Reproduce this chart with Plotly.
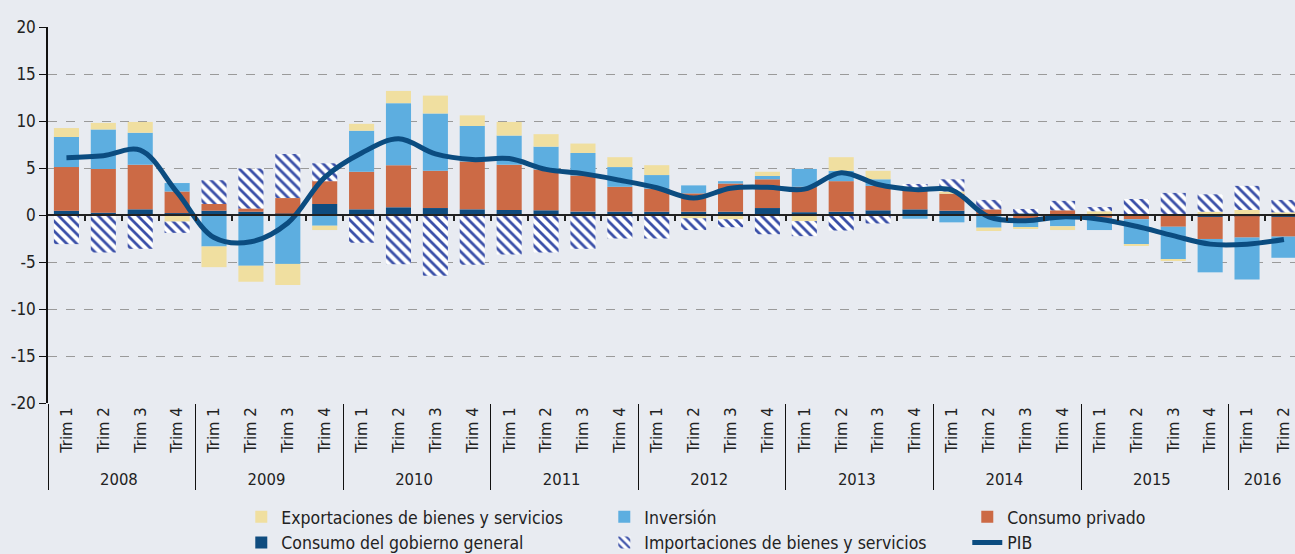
import plotly.graph_objects as go

years = ["2008"] * 4 + ["2009"] * 4 + ["2010"] * 4 + ["2011"] * 4 + ["2012"] * 4 + ["2013"] * 4 + ["2014"] * 4 + ["2015"] * 4 + ["2016"] * 2
quarters = ["Trim 1", "Trim 2", "Trim 3", "Trim 4"] * 8 + ["Trim 1", "Trim 2"]

gobierno = [0.46, 0.25, 0.6, 0.2, 0.46, 0.35, 0.15, 1.17, 0.6, 0.82, 0.74, 0.6,
            0.53, 0.5, 0.36, 0.36, 0.35, 0.35, 0.35, 0.74, 0.3, 0.35, 0.5, 0.6,
            0.46, 0.08, 0.15, 0.06, 0.05, 0.03, 0.05, -0.2, -0.12, -0.2]
privado = [4.64, 4.65, 4.75, 2.3, 0.71, 0.35, 1.65, 2.43, 4.0, 4.48, 3.96, 5.1,
           4.82, 4.35, 3.84, 2.64, 2.45, 1.95, 3.0, 3.06, 2.7, 3.25, 2.6, 2.05,
           1.81, 0.52, -0.45, 0.44, -0.3, -0.45, -1.25, -2.35, -2.28, -2.1]
inversion = [3.2, 4.2, 3.4, 0.9, -3.35, -5.4, -5.2, -1.14, 4.37, 6.6, 6.1, 3.77,
             3.1, 2.42, 2.4, 2.1, 1.45, 0.85, 0.25, 0.35, 1.9, 1.1, 0.7, -0.4,
             -0.78, -1.35, -0.85, -1.2, -1.3, -2.65, -3.45, -3.55, -4.45, -2.25]
exportaciones = [0.95, 0.7, 1.15, -0.7, -2.2, -1.7, -2.25, -0.46, 0.73, 1.3, 1.9, 1.13,
                 1.45, 1.33, 1.0, 1.05, 1.05, -0.35, -0.45, 0.45, -0.65, 1.45, 0.9, 0.0,
                 0.23, -0.35, -0.15, -0.4, 0.35, -0.1, -0.15, 0.35, 0.53, 0.28]
importaciones = [-3.1, -4.0, -3.6, -1.2, 2.53, 4.25, 4.7, 1.9, -2.95, -5.25, -6.45, -5.3,
                 -4.2, -4.0, -3.6, -2.5, -2.5, -1.25, -0.85, -2.05, -1.6, -1.65, -0.9, 0.65,
                 1.3, 1.0, 0.49, 1.0, 0.45, 1.67, 2.3, 1.85, 2.57, 1.32]
pib = [6.1, 6.3, 6.9, 2.4, -2.4, -2.85, -0.85, 4.0, 6.6, 8.1, 6.5, 5.9,
       6.0, 4.85, 4.4, 3.7, 2.9, 1.8, 2.85, 2.95, 2.75, 4.5, 3.25, 2.7,
       2.65, -0.2, -0.6, -0.2, -0.45, -1.2, -2.2, -3.1, -3.1, -2.6]

y_ticks = [-20, -15, -10, -5, 0, 5, 10, 15, 20]
y_ticktext = ["-20", "-15", "-10", "-5", "0", "5", "10", "15", "20"]

FONT = "DejaVu Sans Condensed, DejaVu Sans, sans-serif"
BG = "#E8EBF1"
TXT = "#222222"
x = [years, quarters]

fig = go.Figure()
fig.add_trace(go.Bar(x=x, y=gobierno, name="Consumo del gobierno general",
                     marker=dict(color="#0F4C7F", line=dict(width=0)), legendrank=4))
fig.add_trace(go.Bar(x=x, y=privado, name="Consumo privado",
                     marker=dict(color="#CC6A45", line=dict(width=0)), legendrank=3))
fig.add_trace(go.Bar(x=x, y=inversion, name="Inversión",
                     marker=dict(color="#5DAEE0", line=dict(width=0)), legendrank=2))
fig.add_trace(go.Bar(x=x, y=exportaciones, name="Exportaciones de bienes y servicios",
                     marker=dict(color="#F0DFA0", line=dict(width=0)), legendrank=1))
fig.add_trace(go.Bar(x=x, y=importaciones, name="Importaciones de bienes y servicios",
                     marker=dict(color="white", line=dict(width=0),
                                 pattern=dict(shape="\\", fgcolor="#3A4FA8", bgcolor="white",
                                              size=7, solidity=0.4, fgopacity=1)),
                     legendrank=5))
fig.add_trace(go.Scatter(x=x, y=pib, name="PIB", mode="lines",
                         line=dict(color="#0B4C80", width=5, shape="spline", smoothing=1.0),
                         legendrank=6))
# empty trace to hold the zero-line axis
fig.add_trace(go.Scatter(x=[], y=[], xaxis="x2", showlegend=False, hoverinfo="skip"))

fig.update_layout(
    width=1295, height=554,
    paper_bgcolor=BG, plot_bgcolor=BG,
    barmode="relative", bargap=0.32,
    margin=dict(l=48, r=0, t=27, b=151, pad=0, autoexpand=False),
    font=dict(family=FONT, size=17, color=TXT),
    showlegend=True,
    legend=dict(orientation="h", x=0.155, xanchor="left", y=-0.255, yanchor="top",
                entrywidth=318, entrywidthmode="pixels", traceorder="normal",
                font=dict(family=FONT, size=17.5, color=TXT),
                bgcolor="rgba(0,0,0,0)", itemwidth=30, tracegroupgap=0),
    xaxis=dict(type="multicategory", range=[-0.5, 33.3], tickangle=-90,
               showgrid=False, showline=False, ticks="", zeroline=False,
               showdividers=True, dividercolor="#111111", dividerwidth=1.2,
               tickfont=dict(family=FONT, size=16.5, color=TXT)),
    xaxis2=dict(overlaying="x", anchor="free", position=0.5, range=[-0.5, 33.3],
                showline=True, linecolor="#222222", linewidth=2,
                ticks="outside", tickvals=[i + 0.5 for i in range(33)], ticklen=5,
                tickwidth=1.5, tickcolor="#222222", showticklabels=False,
                showgrid=False, zeroline=False, side="bottom"),
    yaxis=dict(range=[-20, 20], tickvals=y_ticks, ticktext=y_ticktext,
               showgrid=True, gridcolor="#9A9A9A", griddash="dash", gridwidth=1,
               zeroline=False, showline=True, linecolor="#111111", linewidth=1.5,
               ticks="outside", ticklen=7, tickcolor="#111111", tickwidth=1,
               tickfont=dict(family=FONT, size=17, color=TXT)),
)

fig.write_html("out.html", config={"displayModeBar": False},
               post_script="document.body.style.margin='0';document.body.style.background='#E8EBF1';")
